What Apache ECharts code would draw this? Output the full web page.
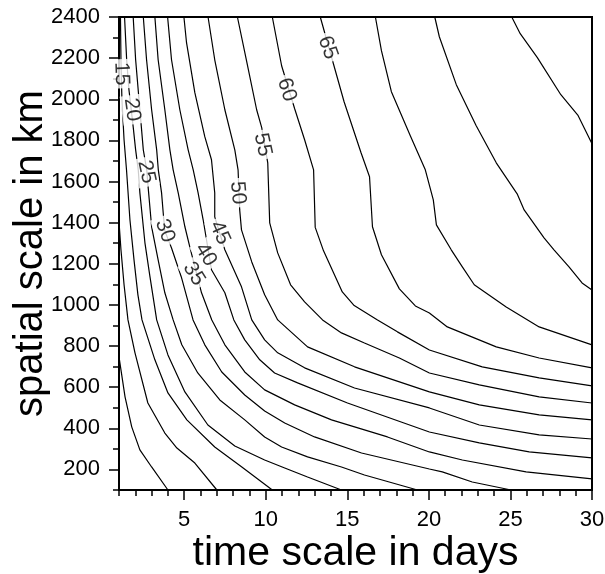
<!DOCTYPE html>
<html>
<head>
<meta charset="utf-8">
<script src="https://cdn.jsdelivr.net/npm/echarts@6/dist/echarts.min.js"></script>
<style>
html, body { margin: 0; padding: 0; background: #fff; }
#main { width: 605px; height: 574px; }
</style>
</head>
<body>
<div id="main"></div>
<script>
// contour levels, each line as [days, km]
var levels = [5, 10, 15, 20, 25, 30, 35, 40, 45, 50, 55, 60, 65, 70, 75, 80];

var c5 = [[1.0, 747], [1.37, 553], [1.78, 407], [2.28, 295], [3.0, 212], [4.0, 100]];
var c10 = [[1.0, 1404], [1.12, 1268], [1.31, 1098], [1.55, 927], [1.98, 767], [2.77, 523],
  [3.81, 377], [4.55, 304], [5.65, 231], [7.0, 100]];
var c15 = [[1.09, 2400], [1.12, 2192], [1.18, 1998], [1.31, 1803], [1.46, 1657], [1.67, 1414],
  [1.92, 1219], [2.16, 1049], [2.41, 927], [3.20, 733], [4.0, 572], [5.16, 441], [6.87, 309],
  [8.53, 212], [10.4, 100]];
var c20 = [[1.34, 2400], [1.47, 2192], [1.61, 2046], [1.87, 1866], [2.02, 1754], [2.18, 1657],
  [2.28, 1545], [2.59, 1302], [2.90, 1136], [3.31, 927], [4.0, 757], [5.04, 577], [6.45, 416],
  [8.10, 314], [9.93, 246], [11.16, 207], [12.56, 163], [14.64, 100]];
var c25 = [[1.87, 2400], [2.02, 2192], [2.28, 1949], [2.49, 1754], [2.70, 1657], [2.79, 1569],
  [3.0, 1380], [3.40, 1219], [3.81, 1059], [4.32, 927], [4.85, 806], [5.83, 669], [7.18, 538],
  [8.71, 441], [9.93, 358], [10.97, 309], [12.56, 261], [14.64, 212], [16.05, 173], [19.3, 100]];
var c30 = [[2.49, 2400], [2.69, 2192], [3.0, 1949], [3.31, 1754], [3.41, 1657], [3.61, 1545],
  [3.71, 1448], [3.81, 1360], [4.22, 1277], [4.82, 1136], [5.54, 927], [6.26, 806], [7.30, 674],
  [8.71, 562], [9.93, 484], [11.16, 426], [12.99, 358], [15.87, 280], [20.03, 202], [20.82, 188],
  [22.66, 139], [25.04, 100]];
var c35 = [[3.20, 2400], [3.40, 2192], [3.81, 1949], [4.12, 1754], [4.32, 1657], [4.63, 1545],
  [5.04, 1380], [5.34, 1282], [6.06, 1059], [6.69, 927], [7.49, 806], [8.71, 674], [9.93, 587],
  [11.77, 514], [14.03, 441], [17.46, 358], [20.03, 285], [22.05, 246], [25.96, 188], [30, 154]];
var c40 = [[3.98, 2400], [4.22, 2192], [4.73, 1949], [5.24, 1754], [5.55, 1657], [5.85, 1545],
  [6.16, 1414], [6.67, 1171], [7.49, 1059], [8.04, 927], [8.71, 830], [9.63, 733], [10.54, 669],
  [11.95, 621], [15.01, 523], [20.03, 382], [23.09, 329], [26.15, 285], [30, 256]];
var c45 = [[4.98, 2400], [5.14, 2275], [5.65, 2032], [6.26, 1818], [6.67, 1706], [6.87, 1545],
  [6.87, 1428], [7.49, 1268], [8.51, 1088], [9.14, 927], [9.93, 830], [10.73, 767], [12.38, 694],
  [15.44, 596], [20.03, 499], [23.09, 416], [26.76, 368], [30, 348]];
var c50 = [[6.46, 2400], [6.87, 2192], [7.49, 1949], [8.10, 1754], [8.30, 1657], [8.40, 1462],
  [8.51, 1365], [9.14, 1209], [9.93, 1049], [10.73, 927], [12.56, 796], [15.44, 699], [20.03, 577],
  [23.09, 514], [26.76, 465], [30, 441]];
var c55 = [[8.26, 2400], [8.83, 2183], [9.44, 1949], [9.75, 1862], [10.12, 1691], [10.24, 1399],
  [10.73, 1253], [11.52, 1098], [12.38, 1015], [13.48, 927], [14.64, 864], [16.05, 815],
  [18.19, 742], [20.03, 669], [23.09, 611], [26.76, 553], [30, 523]];
var c60 = [[10.40, 2400], [10.97, 2163], [11.77, 1954], [12.38, 1803], [12.93, 1657], [13.03, 1377],
  [13.54, 1263], [14.69, 1063], [15.42, 997], [16.85, 927], [18.07, 869], [20.03, 781],
  [23.27, 699], [26.76, 645], [30, 606]];
var c65 = [[13.34, 2400], [14.80, 1988], [15.84, 1740], [16.36, 1623], [16.54, 1380], [17.09, 1244],
  [18.19, 1078], [19.17, 995], [20.03, 961], [21.13, 893], [24.13, 796], [26.76, 742], [30, 694]];
var c70 = [[16.72, 2400], [17.09, 2236], [17.70, 2037], [18.86, 1823], [19.78, 1657], [20.27, 1511],
  [20.46, 1389], [21.37, 1268], [22.05, 1185], [22.78, 1098], [24.74, 990], [26.76, 893], [30, 806]];
var c75 = [[20.36, 2400], [20.64, 2304], [21.68, 2071], [22.90, 1871], [24.13, 1691], [25.41, 1540],
  [25.84, 1462], [27.06, 1326], [27.67, 1268], [28.59, 1185], [29.39, 1107], [30, 1073]];
var c80 = [[25.08, 2400], [25.60, 2319], [26.64, 2204], [28.09, 2022], [29.13, 1923], [30, 1784]];

var lines = [c5, c10, c15, c20, c25, c30, c35, c40, c45, c50, c55, c60, c65, c70, c75, c80];

// inline contour labels and where they sit
var labelText = ['15', '20', '25', '30', '35', '40', '45', '50', '55', '60', '65'];
var labelAt = [[1.15, 2124], [1.80, 1949], [2.68, 1647], [3.81, 1360], [5.59, 1151], [6.32, 1244],
  [7.18, 1350], [8.28, 1545], [9.81, 1779], [11.28, 2046], [13.79, 2251]];

var xMajor = [5, 10, 15, 20, 25, 30];
var yMajor = [200, 400, 600, 800, 1000, 1200, 1400, 1600, 1800, 2000, 2200, 2400];

var font = 'Liberation Sans, Arial, Helvetica, sans-serif';
var labelAngles = [-88, -82, -78, -70, -58, -58, -66, -85, -78, -73, -70];

var chart = echarts.init(document.getElementById('main'));

var series = lines.map(function (pts, i) {
  return {
    name: 'c' + levels[i],
    type: 'line',
    data: pts,
    symbol: 'none',
    silent: true,
    clip: true,
    lineStyle: { color: '#000', width: 1.2 },
    z: 2
  };
});

series.push({
  type: 'scatter',
  symbolSize: 0,
  silent: true,
  z: 5,
  data: labelAt.map(function (p, i) {
    return { value: p, label: { formatter: labelText[i], rotate: labelAngles[i] } };
  }),
  label: {
    show: true,
    position: 'inside',
    color: '#000',
    fontSize: 21,
    fontFamily: font,
    backgroundColor: '#fff',
    padding: [0, 3]
  }
});

var tickStyle = { color: '#000', width: 1.5 };
var plain = function (v) { return String(v); };

chart.setOption({
  animation: false,
  backgroundColor: '#fff',
  grid: {
    left: 119, right: 13, top: 17, bottom: 84,
    outerBoundsMode: 'none',
    containLabel: false,
    show: true, borderColor: '#000', borderWidth: 2
  },
  xAxis: [
    {
      type: 'value', min: 1, max: 30, position: 'bottom',
      axisLine: { lineStyle: { color: '#000', width: 2 } },
      axisTick: { customValues: xMajor, length: 10, lineStyle: tickStyle },
      axisLabel: { customValues: xMajor, formatter: plain, margin: 19, fontSize: 22, color: '#000', fontFamily: font },
      splitLine: { show: false },
      name: 'time scale in days',
      nameLocation: 'middle',
      nameMoveOverlap: false,
      nameGap: 43,
      nameTextStyle: { fontSize: 41, color: '#000', fontFamily: font }
    },
    {
      type: 'value', min: 1, max: 30, interval: 1, position: 'bottom',
      axisLine: { show: false },
      axisTick: { length: 6, lineStyle: tickStyle },
      axisLabel: { show: false },
      splitLine: { show: false }
    }
  ],
  yAxis: [
    {
      type: 'value', min: 100, max: 2400, position: 'left',
      axisLine: { lineStyle: { color: '#000', width: 2 } },
      axisTick: { customValues: yMajor, length: 10, lineStyle: tickStyle },
      axisLabel: { customValues: yMajor, formatter: plain, margin: 19, fontSize: 22, color: '#000', fontFamily: font },
      splitLine: { show: false },
      name: 'spatial scale in km',
      nameLocation: 'middle',
      nameRotate: 90,
      nameMoveOverlap: false,
      nameGap: 68,
      nameTextStyle: { fontSize: 40, color: '#000', fontFamily: font }
    },
    {
      type: 'value', min: 100, max: 2400, interval: 100, position: 'left',
      axisLine: { show: false },
      axisTick: { length: 6, lineStyle: tickStyle },
      axisLabel: { show: false },
      splitLine: { show: false }
    }
  ],
  series: series
});
</script>
</body>
</html>
